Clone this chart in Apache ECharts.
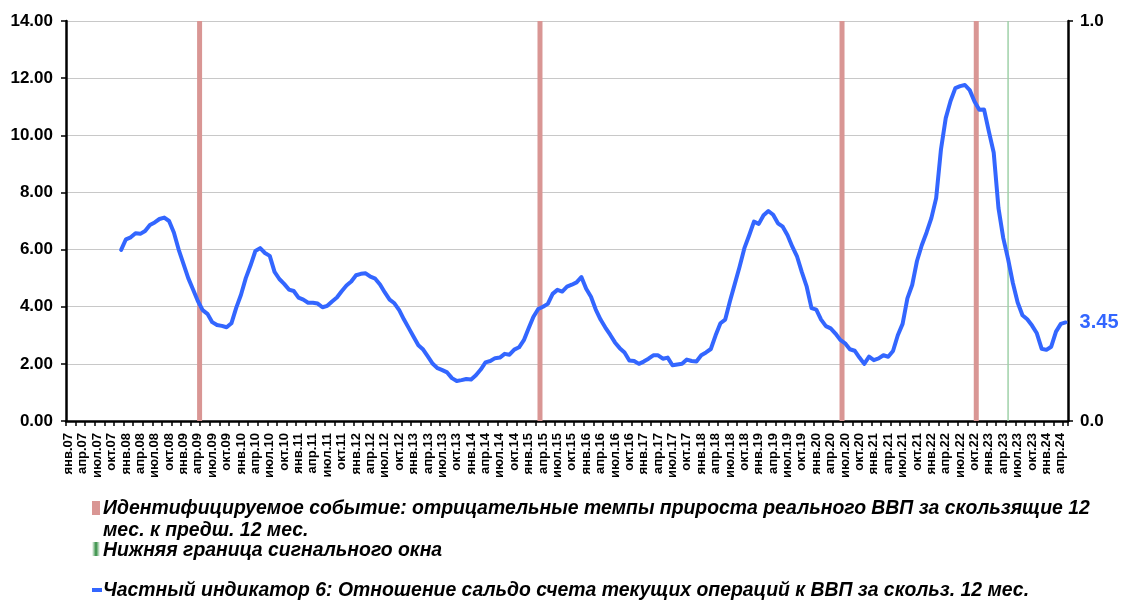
<!DOCTYPE html>
<html><head><meta charset="utf-8">
<script src="https://cdn.jsdelivr.net/npm/echarts@6/dist/echarts.min.js"></script>
<style>html,body{margin:0;padding:0;background:#fff}#c{width:1126px;height:601px}</style>
</head><body><div id="c"></div><script>
// Month categories янв.07 … май.24
const monthNames = ['янв','фев','мар','апр','май','июн','июл','авг','сен','окт','ноя','дек'];
const firstYear = 7, lastYear = 24, lastMonthIdx = 4;
const categories = [];
for (let y = firstYear; y <= lastYear; y++) {
  for (let m = 0; m < 12; m++) {
    if (y === lastYear && m > lastMonthIdx) break;
    categories.push(monthNames[m] + '.' + String(y).padStart(2, '0'));
  }
}
// Event months (negative real GDP growth) and signal-window lower bound
const eventMonths = ['апр.09', 'мар.15', 'июн.20', 'окт.22'];
const signalMonths = ['май.23'];
// Indicator 6 values, starting дек.07
const indicatorStart = 'дек.07';
const indicatorValues = [
  5.99, 6.36, 6.43, 6.57, 6.55, 6.65, 6.86, 6.95, 7.07, 7.12,
  7.0, 6.6, 6.0, 5.5, 5.0, 4.6, 4.2, 3.88, 3.75, 3.46,
  3.36, 3.33, 3.28, 3.42, 3.96, 4.42, 5.0, 5.45, 5.95, 6.05,
  5.88, 5.78, 5.22, 4.97, 4.8, 4.6, 4.55, 4.32, 4.25, 4.14,
  4.14, 4.11, 3.98, 4.03, 4.18, 4.32, 4.54, 4.74, 4.88, 5.1,
  5.15, 5.17, 5.05, 4.98, 4.78, 4.5, 4.25, 4.12, 3.88, 3.55,
  3.25, 2.95, 2.65, 2.5, 2.25, 2.0, 1.85, 1.78, 1.7, 1.5,
  1.4, 1.43, 1.47, 1.45, 1.6, 1.8, 2.05, 2.1, 2.2, 2.22,
  2.35, 2.32, 2.5, 2.58, 2.83, 3.25, 3.65, 3.92, 4.0, 4.1,
  4.45, 4.59, 4.53, 4.7, 4.77, 4.85, 5.04, 4.63, 4.35, 3.9,
  3.55, 3.27, 3.02, 2.75, 2.55, 2.4, 2.12, 2.1, 2.0, 2.08,
  2.18, 2.3, 2.3, 2.18, 2.22, 1.95, 1.98, 2.0, 2.15, 2.1,
  2.08, 2.3, 2.4, 2.52, 3.0, 3.42, 3.55, 4.2, 4.8, 5.4,
  6.05, 6.5, 6.98, 6.9, 7.2, 7.35, 7.22, 6.92, 6.8, 6.5,
  6.1, 5.75, 5.2, 4.7, 3.95, 3.9, 3.55, 3.32, 3.24, 3.06,
  2.84, 2.72, 2.51, 2.46, 2.22, 2.0, 2.25, 2.13, 2.19, 2.3,
  2.25, 2.45, 3.0, 3.4, 4.29, 4.76, 5.6, 6.15, 6.6, 7.1,
  7.8, 9.5, 10.6, 11.2, 11.65, 11.72, 11.76, 11.58, 11.18, 10.89,
  10.9, 10.13, 9.4, 7.45, 6.4, 5.67, 4.83, 4.15, 3.7, 3.56,
  3.34, 3.07, 2.53, 2.49, 2.6, 3.13, 3.4, 3.45
];
const legendNames = [
  'Идентифицируемое событие: отрицательные темпы прироста реального ВВП за скользящие 12\nмес. к предш. 12 мес.',
  'Нижняя граница сигнального окна',
  'Частный индикатор 6: Отношение сальдо счета текущих операций к ВВП за скольз. 12 мес.'
];

const startIdx = categories.indexOf(indicatorStart);
const lineData = categories.map((c, i) => i < startIdx ? null : indicatorValues[i - startIdx]);
const eventData = categories.map(c => eventMonths.includes(c) ? 1 : null);
const signalData = categories.map(c => signalMonths.includes(c) ? 1 : null);

const FONT = '"Liberation Sans", Arial, sans-serif';
const BLUE = '#3366ff';
const RED = '#d99694';
const GREEN = '#9fd1a9';
const legendFont = 'italic bold 19.4px ' + FONT;

const chart = echarts.init(document.getElementById('c'), null, {renderer: 'canvas'});
chart.setOption({
  animation: false,
  backgroundColor: '#fff',
  grid: {left: 66, right: 58, top: 21, bottom: 180, containLabel: false},
  xAxis: {
    type: 'category',
    data: categories,
    boundaryGap: true,
    axisLine: {show: true, lineStyle: {color: '#000', width: 2.5}},
    axisTick: {show: true, interval: 1, length: 5, lineStyle: {color: '#000', width: 1.5}},
    axisLabel: {
      interval: 2, rotate: 90, margin: 12,
      fontFamily: FONT, fontWeight: 'bold', fontSize: 13, color: '#000'
    },
    splitLine: {show: false}
  },
  yAxis: [
    {
      type: 'value', min: 0, max: 14, interval: 2, position: 'left',
      axisLine: {show: true, lineStyle: {color: '#000', width: 2.5}},
      axisTick: {show: true, length: 5, lineStyle: {color: '#000', width: 1.5}},
      axisLabel: {
        margin: 13, formatter: v => v.toFixed(2),
        fontFamily: FONT, fontWeight: 'bold', fontSize: 17, color: '#000'
      },
      splitLine: {show: true, lineStyle: {color: '#c8c8c8', width: 1}}
    },
    {
      type: 'value', min: 0, max: 1, interval: 1, position: 'right',
      axisLine: {show: true, lineStyle: {color: '#000', width: 2.5}},
      axisTick: {show: true, length: 5, lineStyle: {color: '#000', width: 1.5}},
      axisLabel: {
        margin: 12, formatter: v => v.toFixed(1),
        fontFamily: FONT, fontWeight: 'bold', fontSize: 17, color: '#000'
      },
      splitLine: {show: false}
    }
  ],
  series: [
    {
      name: legendNames[0], type: 'bar', yAxisIndex: 1, data: eventData,
      barWidth: 5, barGap: '-100%', itemStyle: {color: RED}, z: 1
    },
    {
      name: legendNames[1], type: 'bar', yAxisIndex: 1, data: signalData,
      barWidth: 1.5, itemStyle: {color: GREEN}, z: 1
    },
    {
      name: legendNames[2], type: 'line', yAxisIndex: 0, data: lineData,
      showSymbol: false, symbol: 'none', connectNulls: false,
      lineStyle: {color: BLUE, width: 4, cap: 'round', join: 'round'},
      itemStyle: {color: BLUE}, z: 5,
      endLabel: {
        show: true, distance: 14,
        formatter: p => Number(p.value).toFixed(2),
        color: BLUE, fontFamily: FONT, fontWeight: 'bold', fontSize: 20
      }
    }
  ],
  graphic: [
    {type: 'rect', left: 92, top: 501, shape: {width: 8, height: 14}, style: {fill: RED}},
    {type: 'text', left: 103, top: 498, style: {text: legendNames[0], font: legendFont, lineHeight: 22, fill: '#000'}},
    {type: 'rect', left: 92, top: 542, shape: {width: 8, height: 14}, style: {
      fill: new echarts.graphic.LinearGradient(0, 0, 1, 0, [
        {offset: 0, color: '#ffffff'}, {offset: 0.5, color: '#2e8b3e'}, {offset: 1, color: '#ffffff'}
      ])}},
    {type: 'text', left: 103, top: 540, style: {text: legendNames[1], font: legendFont, lineHeight: 22, fill: '#000'}},
    {type: 'rect', left: 92, top: 588, shape: {width: 10, height: 4}, style: {fill: BLUE}},
    {type: 'text', left: 103, top: 580, style: {text: legendNames[2], font: legendFont, lineHeight: 22, fill: '#000'}}
  ]
});
</script></body></html>
